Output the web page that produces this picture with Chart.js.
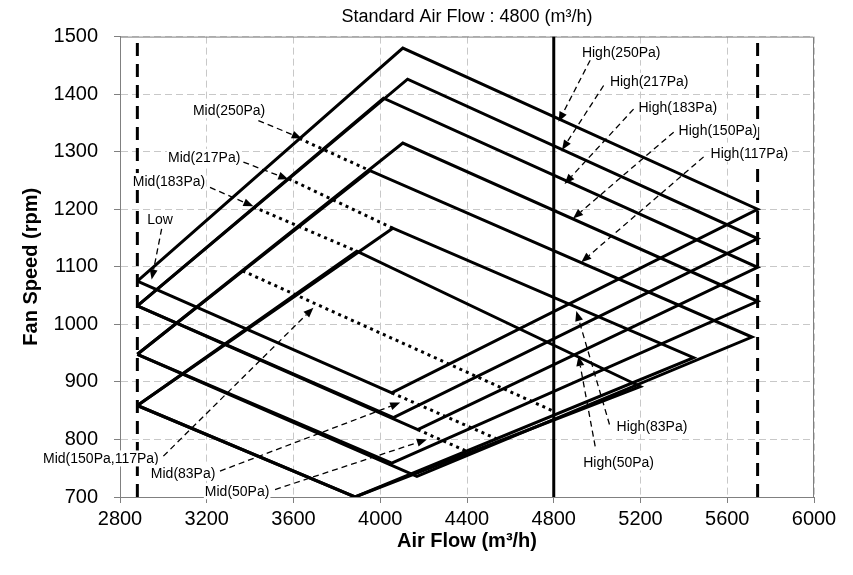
<!DOCTYPE html>
<html><head><meta charset="utf-8">
<script src="https://cdn.jsdelivr.net/npm/chart.js@4.4.1/dist/chart.umd.min.js"></script>
<style>html,body{margin:0;padding:0;background:#fff}canvas{display:block}</style>
</head><body>
<canvas id="c" width="853" height="575"></canvas>
<script>
// ---- data ----
const espSettings   = ['250Pa','217Pa','183Pa','150Pa','117Pa','83Pa','50Pa'];
const minAirFlow = 2880;
const maxAirFlow = 5740;
const standardAirFlow = 4800;
// Low tap lines (start on the min-airflow line)
const lowStartRpm   = [1075, 1032, 1032, 948, 948, 859, 859];
const lowEndFlow    = [4053, 4061, 4173, 4053, 4169, 3884, 3884];
const lowEndRpm     = [881, 838, 817, 759, 736, 700, 700];
// High tap lines
const highStartFlow = [4104, 4126, 4015, 4104, 3953, 4058, 3892];
const highStartRpm  = [1480, 1426, 1393, 1315, 1267, 1167, 1127];
const highEndFlow   = [5740, 5740, 5740, 5740, 5714, 5445, 5199];
const highEndRpm    = [1200, 1149, 1099, 1040, 978, 942, 892];
// Mid tap lines (dotted, visible parts)
const midNames      = ['Mid(250Pa)','Mid(217Pa)','Mid(183Pa)','Mid(150Pa,117Pa)','Mid(83Pa)','Mid(50Pa)'];
const midStartFlow  = [3627, 3578, 3415, 3365, 4053, 4173];
const midStartRpm   = [1323, 1253, 1204, 1093, 881, 817];
const midEndFlow    = [3953, 4058, 3892, 4799, 4543, 4420];
const midEndRpm     = [1267, 1167, 1127, 849, 800, 776];
// axis ranges / ticks
const xRange = [2800, 6000]; const xStep = 400;
const yRange = [700, 1500];  const yStep = 100;

// ---- annotations (label + arrow, in data units) ----
const noteText      = ['Mid(250Pa)','Mid(217Pa)','Mid(183Pa)','Low','High(250Pa)','High(217Pa)','High(183Pa)','High(150Pa)','High(117Pa)','High(83Pa)','High(50Pa)','Mid(150Pa,117Pa)','Mid(83Pa)','Mid(50Pa)'];
const noteFlow      = [3303, 3188, 3026, 2985, 5111, 5240, 5372, 5557, 5702, 5253, 5099, 2712, 3091, 3340];
const noteRpm       = [1372, 1291, 1249, 1182, 1473, 1423, 1378, 1338, 1297, 823, 760, 767, 742, 710];
const arrowFromFlow = [3438, 3369, 3215, 2992, 4968, 5030, 5168, 5353, 5491, 5057, 4991, 3000, 3261, 3515];
const arrowFromRpm  = [1354, 1282, 1238, 1166, 1459, 1415, 1374, 1334, 1291, 826, 788, 771, 745, 713];
const arrowToFlow   = [3638, 3576, 3415, 2946, 4822, 4838, 4850, 4889, 4927, 4904, 4914, 3692, 4092, 4215];
const arrowToRpm    = [1323, 1252, 1205, 1078, 1352, 1303, 1244, 1184, 1108, 1023, 945, 1029, 864, 800];

const FONT = '"Liberation Sans", Arial, sans-serif';

// ---- datasets ----
const datasets = [];
espSettings.forEach((p, i) => {
  datasets.push({
    label: 'ESP ' + p,
    data: [
      {x: minAirFlow, y: lowStartRpm[i]},
      {x: highStartFlow[i], y: highStartRpm[i]},
      {x: highEndFlow[i], y: highEndRpm[i]},
      {x: lowEndFlow[i], y: lowEndRpm[i]},
      {x: minAirFlow, y: lowStartRpm[i]}
    ],
    borderColor: '#000', borderWidth: 3, showLine: true, pointRadius: 0,
    borderJoinStyle: 'miter', tension: 0
  });
});
midNames.forEach((m, i) => {
  datasets.push({
    label: m,
    data: [{x: midStartFlow[i], y: midStartRpm[i]}, {x: midEndFlow[i], y: midEndRpm[i]}],
    borderColor: '#000', borderWidth: 3, borderDash: [3, 4], showLine: true, pointRadius: 0
  });
});
datasets.push({
  label: 'Standard', data: [{x: standardAirFlow, y: yRange[0]}, {x: standardAirFlow, y: yRange[1]}],
  borderColor: '#000', borderWidth: 3, showLine: true, pointRadius: 0
});
[minAirFlow, maxAirFlow].forEach(v => datasets.push({
  label: 'Limit ' + v, data: [{x: v, y: yRange[0]}, {x: v, y: yRange[1]}],
  borderColor: '#000', borderWidth: 3, borderDash: [13, 8], showLine: true, pointRadius: 0
}));

// ---- plugins ----
const frame = {
  id: 'frame',
  beforeDatasetsDraw(chart) {
    const {ctx, chartArea: a} = chart;
    ctx.save();
    ctx.strokeStyle = '#808080'; ctx.lineWidth = 1;
    ctx.beginPath();
    ctx.moveTo(a.left, a.top + 0.5); ctx.lineTo(a.right - 0.5, a.top + 0.5); ctx.lineTo(a.right - 0.5, a.bottom);
    ctx.stroke();
    ctx.restore();
  }
};
const notes = {
  id: 'notes',
  afterDraw(chart) {
    const {ctx, scales: {x, y}} = chart;
    ctx.save();
    noteText.forEach((t, i) => {
      const x0 = x.getPixelForValue(arrowFromFlow[i]), y0 = y.getPixelForValue(arrowFromRpm[i]);
      const x1 = x.getPixelForValue(arrowToFlow[i]),   y1 = y.getPixelForValue(arrowToRpm[i]);
      const dx = x1 - x0, dy = y1 - y0, L = Math.hypot(dx, dy), ux = dx / L, uy = dy / L;
      const hl = 10, hw = 4;
      ctx.strokeStyle = '#000'; ctx.lineWidth = 1.3; ctx.setLineDash([6, 4]);
      ctx.beginPath(); ctx.moveTo(x0, y0); ctx.lineTo(x1 - ux * hl, y1 - uy * hl); ctx.stroke();
      ctx.setLineDash([]);
      ctx.fillStyle = '#000';
      ctx.beginPath();
      ctx.moveTo(x1, y1);
      ctx.lineTo(x1 - ux * hl - uy * hw, y1 - uy * hl + ux * hw);
      ctx.lineTo(x1 - ux * hl + uy * hw, y1 - uy * hl - ux * hw);
      ctx.closePath(); ctx.fill();
    });
    ctx.font = '14px ' + FONT;
    ctx.textAlign = 'center'; ctx.textBaseline = 'middle';
    noteText.forEach((t, i) => {
      const cx = x.getPixelForValue(noteFlow[i]), cy = y.getPixelForValue(noteRpm[i]);
      const w = ctx.measureText(t).width;
      ctx.fillStyle = '#fff';
      ctx.fillRect(cx - w / 2 - 1, cy - 8, w + 2, 16);
      ctx.fillStyle = '#000';
      ctx.fillText(t, cx, cy + 1);
    });
    ctx.restore();
  }
};

new Chart(document.getElementById('c'), {
  type: 'scatter',
  data: {datasets},
  options: {
    responsive: false, animation: false, events: [],
    layout: {padding: {left: 0, right: 39, top: 0, bottom: 0}},
    plugins: {
      legend: {display: false}, tooltip: {enabled: false},
      title: {display: true, text: 'Standard Air Flow : 4800 (m³/h)', fullSize: false,
        color: '#000', font: {family: FONT, size: 18, weight: 'normal'}, padding: {top: 6, bottom: 9}}
    },
    scales: {
      x: {
        type: 'linear', min: xRange[0], max: xRange[1],
        ticks: {stepSize: xStep, color: '#000', font: {family: FONT, size: 20}, padding: 4, maxRotation: 0, autoSkip: false,
          callback: v => String(v)},
        grid: {color: '#c8c8c8', lineWidth: 1, tickColor: '#808080', tickLength: 6, tickBorderDash: []},
        border: {display: true, color: '#808080', width: 1, dash: [7, 4]},
        title: {display: true, text: 'Air Flow (m³/h)', color: '#000', font: {family: FONT, size: 20, weight: 'bold'}, padding: {top: 0, bottom: 22}},
        afterFit(s) { s.height = 78; }
      },
      y: {
        type: 'linear', min: yRange[0], max: yRange[1],
        ticks: {stepSize: yStep, color: '#000', font: {family: FONT, size: 20}, padding: 16,
          callback: v => String(v)},
        grid: {color: '#c8c8c8', lineWidth: 1, tickColor: '#808080', tickLength: 6, tickBorderDash: []},
        border: {display: true, color: '#808080', width: 1, dash: [7, 4]},
        title: {display: true, text: 'Fan Speed (rpm)', color: '#000', font: {family: FONT, size: 20, weight: 'bold'}, padding: {top: 19, bottom: 0}},
        afterFit(s) { s.width = 120; }
      }
    }
  },
  plugins: [frame, notes]
});
</script>
</body></html>
